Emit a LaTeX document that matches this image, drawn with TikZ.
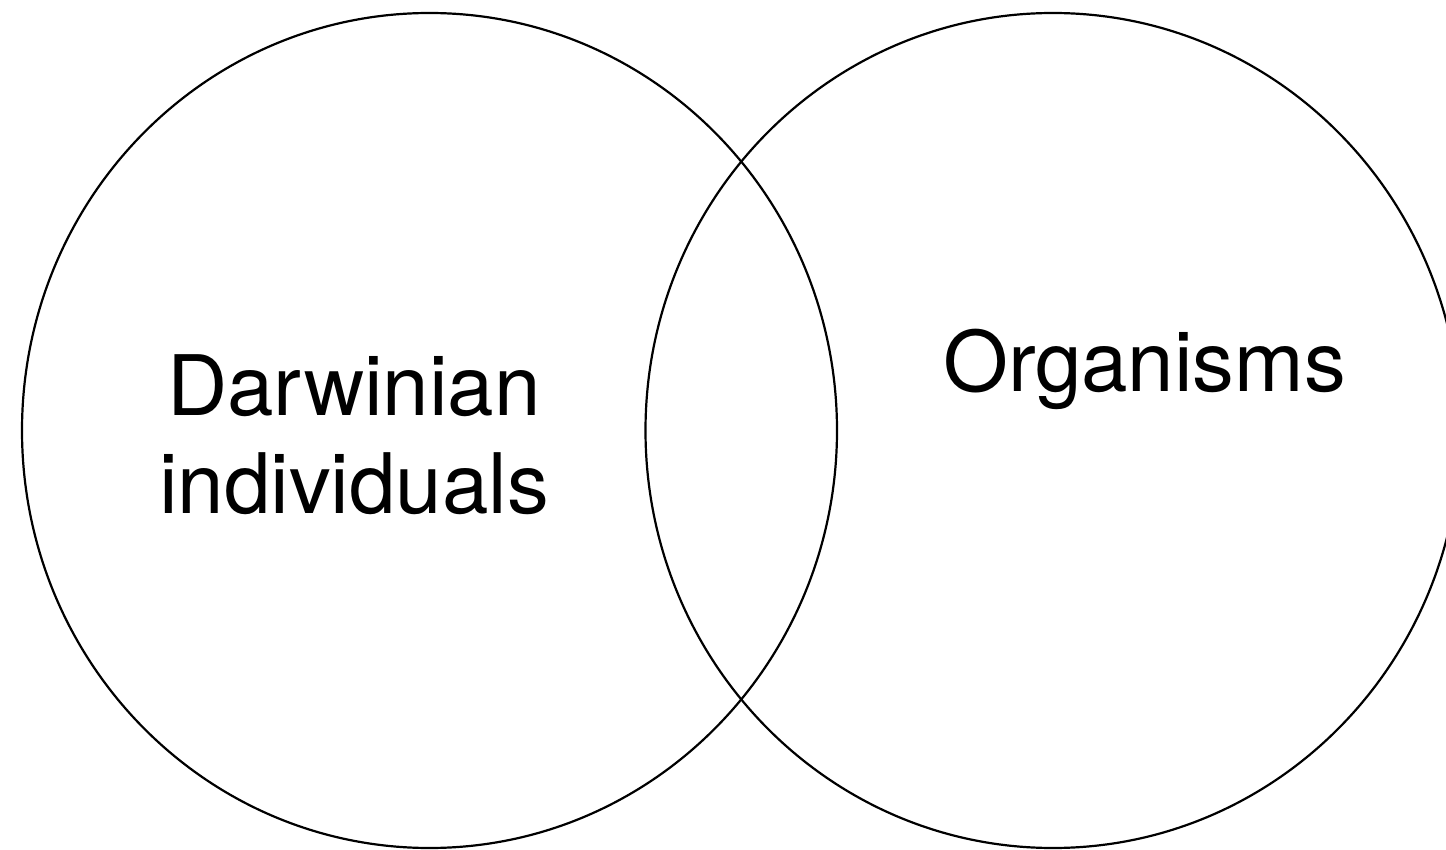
\documentclass[tikz,border=0pt]{standalone}
\usepackage{fontspec}
\setmainfont{TeX Gyre Heros}
\usetikzlibrary{shapes.geometric}

\begin{document}
\begin{tikzpicture}[x=1pt, y=-1pt,
    set/.style={draw, ellipse, line width=2.2pt, minimum width=815pt, minimum height=835pt, inner sep=0pt},
    setlabel/.style={font=\fontsize{83.5}{98}\selectfont, align=center, anchor=base, inner sep=0pt}]
    % Canvas (1 unit = 1 px of the reference)
    \useasboundingbox (0, 0) rectangle (1446, 850);
    \clip (0, 0) rectangle (1446, 850);

    % The two sets
    \node[set] (darwinian) at (429.5, 430.5) {};
    \node[set] (organisms) at (1053, 430.5) {};

    % Labels (base = baseline of the last line)
    \node[setlabel] (darwinianlabel) at (354, 513) {Darwinian\\individuals};
    \node[setlabel] (organismslabel) at (1144.5, 391) {Organisms};
\end{tikzpicture}
\end{document}
